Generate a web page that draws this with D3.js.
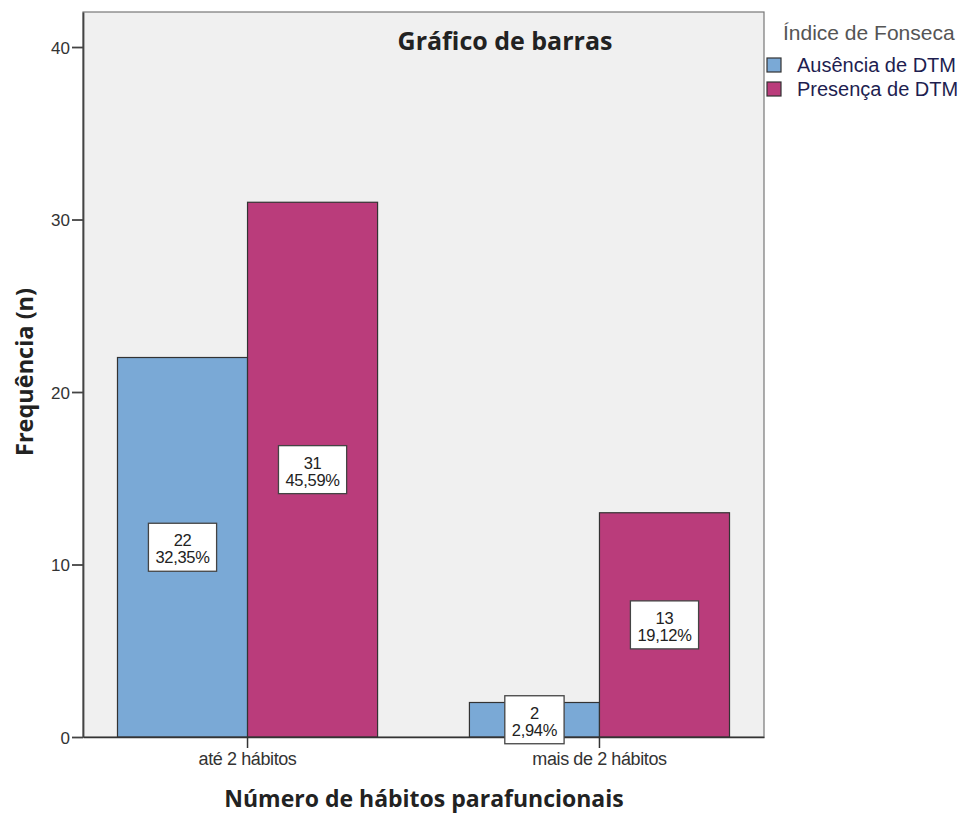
<!DOCTYPE html>
<html>
<head>
<meta charset="utf-8">
<script src="https://cdn.jsdelivr.net/npm/d3@7"></script>
<style>
  html, body { margin: 0; padding: 0; background: #fff; }
  svg { display: block; font-family: "Open Sans", "Liberation Sans", Arial, sans-serif; }
</style>
</head>
<body>
<svg id="chart" width="964" height="814"></svg>
<script>
const categories = ["até 2 hábitos", "mais de 2 hábitos"];
const seriesNames = ["Ausência de DTM", "Presença de DTM"];
const ausencia = [22, 2];
const presenca = [31, 13];
const ausenciaPct = ["32,35%", "2,94%"];
const presencaPct = ["45,59%", "19,12%"];
const yTicks = [0, 10, 20, 30, 40];
const colors = ["#7aa9d6", "#ba3c7b"];

const svg = d3.select("#chart");
const plot = { left: 83, right: 764, top: 12, bottom: 737 };

const x = d3.scaleBand().domain(categories).range([plot.left, plot.right])
  .paddingInner(0.261).paddingOuter(0.098);
const sub = d3.scaleBand().domain(seriesNames).range([0, x.bandwidth()]).padding(0);
const y = d3.scaleLinear().domain([0, 42.03]).range([plot.bottom, plot.top]);

// plot background
svg.append("rect")
  .attr("x", plot.left).attr("y", plot.top)
  .attr("width", plot.right - plot.left).attr("height", plot.bottom - plot.top)
  .attr("fill", "#f0f0f0").attr("stroke", "#777").attr("stroke-width", 1.2);

const series = [ausencia, presenca];
const pcts = [ausenciaPct, presencaPct];
const data = [];
categories.forEach((c, i) => {
  seriesNames.forEach((s, j) => {
    data.push({ cat: c, ser: s, v: series[j][i], pct: pcts[j][i], j });
  });
});

svg.append("g").selectAll("rect").data(data).join("rect")
  .attr("x", d => x(d.cat) + sub(d.ser))
  .attr("y", d => y(d.v))
  .attr("width", sub.bandwidth())
  .attr("height", d => y(0) - y(d.v))
  .attr("fill", d => colors[d.j])
  .attr("stroke", "#333").attr("stroke-width", 1.2);

// y axis
const yAxis = d3.axisLeft(y).tickValues(yTicks).tickSize(11).tickSizeOuter(0).tickPadding(2);
const gy = svg.append("g").attr("transform", `translate(${plot.left},0)`).call(yAxis);
gy.select(".domain").attr("stroke", "#444").attr("stroke-width", 1.8);
gy.selectAll(".tick line").attr("stroke", "#444").attr("stroke-width", 1.8);
gy.selectAll(".tick text").attr("fill", "#333").style("font-size", "17px")
  .style("font-family", "'Liberation Sans', Arial, sans-serif").attr("dy", "0.36em");

// x axis
const xAxis = d3.axisBottom(x).tickSize(11).tickSizeOuter(0).tickPadding(4);
const gx = svg.append("g").attr("transform", `translate(0,${plot.bottom})`).call(xAxis);
gx.select(".domain").attr("stroke", "#333").attr("stroke-width", 1.5);
gx.selectAll(".tick line").attr("stroke", "#333").attr("stroke-width", 1.5);
gx.selectAll(".tick text").attr("fill", "#333").style("font-size", "18px")
  .style("letter-spacing", "-0.4px");

// value labels
const lab = svg.append("g").selectAll("g").data(data).join("g")
  .attr("transform", d => `translate(${x(d.cat) + sub(d.ser) + sub.bandwidth() / 2},${(y(d.v) + y(0)) / 2})`);
lab.append("rect")
  .attr("fill", "#fff").attr("stroke", "#444").attr("stroke-width", 1.3);
const lt = lab.append("text").attr("text-anchor", "middle")
  .style("font-family", "'Liberation Sans', Arial, sans-serif")
  .style("font-size", "16.5px").style("letter-spacing", "-0.3px").attr("fill", "#222");
lt.append("tspan").attr("x", 0).attr("y", -1).text(d => d.v);
lt.append("tspan").attr("x", 0).attr("y", 16).text(d => d.pct);
lab.each(function () {
  const g = d3.select(this);
  let w = 0;
  g.selectAll("tspan").each(function () { w = Math.max(w, this.getComputedTextLength()); });
  w += 14;
  g.select("rect").attr("x", -w / 2).attr("y", -24).attr("width", w).attr("height", 48);
});

// title
svg.append("text").attr("x", 505).attr("y", 50).attr("text-anchor", "middle")
  .style("font-size", "25px").style("font-weight", "bold").attr("fill", "#222")
  .text("Gráfico de barras");

// axis titles
svg.append("text").attr("transform", "translate(33,372) rotate(-90)")
  .attr("text-anchor", "middle").style("font-size", "23.5px").style("font-weight", "bold")
  .attr("fill", "#222").text("Frequência (n)");
svg.append("text").attr("x", 424).attr("y", 807).attr("text-anchor", "middle")
  .style("font-size", "23px").style("font-weight", "bold").attr("fill", "#222")
  .text("Número de hábitos parafuncionais");

// legend
const leg = svg.append("g").style("font-family", "'Liberation Sans', Arial, sans-serif");
leg.append("text").attr("x", 783).attr("y", 40).style("font-size", "21px").attr("fill", "#555")
  .text("Índice de Fonseca");
const li = leg.selectAll("g").data(seriesNames).join("g")
  .attr("transform", (d, i) => `translate(767,${58 + i * 24})`);
li.append("rect").attr("width", 14).attr("height", 14)
  .attr("fill", (d, i) => colors[i]).attr("stroke", "#333").attr("stroke-width", 1.2);
li.append("text").attr("x", 30).attr("y", 14).style("font-size", "20px").attr("fill", "#1e1e50")
  .text(d => d);
</script>
</body>
</html>
